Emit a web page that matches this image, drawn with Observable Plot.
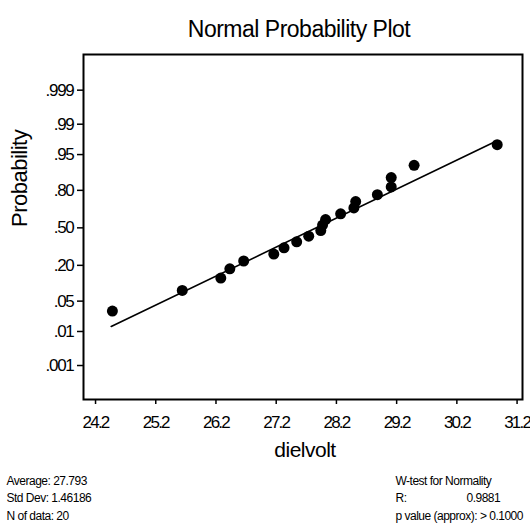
<!DOCTYPE html>
<html>
<head>
<meta charset="utf-8">
<script src="https://cdn.jsdelivr.net/npm/d3@7"></script>
<script src="https://cdn.jsdelivr.net/npm/@observablehq/plot@0.6"></script>
<style>
  html, body { margin: 0; padding: 0; background: white; }
  svg g[aria-label="x-axis tick label"] text { letter-spacing: -1.8px; }
  svg g[aria-label="y-axis tick label"] text { letter-spacing: -1.3px; }
</style>
</head>
<body>
<script>
// ---- data ----
const dielvolt = [24.48, 25.64, 26.28, 26.43, 26.66, 27.16, 27.33, 27.54, 27.74, 27.94,
                  27.97, 28.02, 28.27, 28.49, 28.52, 28.88, 29.11, 29.11, 29.49, 30.87];
const probability = [0.0309, 0.0802, 0.1296, 0.1790, 0.2284, 0.2778, 0.3272, 0.3765, 0.4259, 0.4753,
                     0.5247, 0.5741, 0.6235, 0.6728, 0.7222, 0.7716, 0.8210, 0.8704, 0.9198, 0.9691];
const fitLineX = [24.46, 30.85];
const fitLineP = [0.0134, 0.974];
const xTicks = [24.2, 25.2, 26.2, 27.2, 28.2, 29.2, 30.2, 31.2];
const probTicks = [0.001, 0.01, 0.05, 0.20, 0.50, 0.80, 0.95, 0.99, 0.999];
const probTickLabels = [".001", ".01", ".05", ".20", ".50", ".80", ".95", ".99", ".999"];
const statsLeft = ["Average: 27.793", "Std Dev: 1.46186", "N of data: 20"];
const statsRight = ["W-test for Normality", "R:", "p value (approx): > 0.1000"];
const rValue = "0.9881";

// inverse standard normal CDF (Acklam)
function qnorm(p) {
  const a = [-3.969683028665376e+01, 2.209460984245205e+02, -2.759285104469687e+02, 1.383577518672690e+02, -3.066479806614716e+01, 2.506628277459239e+00];
  const b = [-5.447609879822406e+01, 1.615858368580409e+02, -1.556989798598866e+02, 6.680131188771972e+01, -1.328068155288572e+01];
  const c = [-7.784894002430293e-03, -3.223964580411365e-01, -2.400758277161838e+00, -2.549732539343734e+00, 4.374664141464968e+00, 2.938163982698783e+00];
  const d = [7.784695709041462e-03, 3.224671290700398e-01, 2.445134137142996e+00, 3.754408661907416e+00];
  const pl = 0.02425, ph = 1 - pl;
  let q, r;
  if (p < pl) {
    q = Math.sqrt(-2 * Math.log(p));
    return (((((c[0]*q+c[1])*q+c[2])*q+c[3])*q+c[4])*q+c[5]) / ((((d[0]*q+d[1])*q+d[2])*q+d[3])*q+1);
  } else if (p <= ph) {
    q = p - 0.5; r = q * q;
    return (((((a[0]*r+a[1])*r+a[2])*r+a[3])*r+a[4])*r+a[5])*q / (((((b[0]*r+b[1])*r+b[2])*r+b[3])*r+b[4])*r+1);
  } else {
    q = Math.sqrt(-2 * Math.log(1 - p));
    return -(((((c[0]*q+c[1])*q+c[2])*q+c[3])*q+c[4])*q+c[5]) / ((((d[0]*q+d[1])*q+d[2])*q+d[3])*q+1);
  }
}

const points = dielvolt.map((x, i) => ({x, p: probability[i]}));
const fitLine = fitLineX.map((x, i) => ({x, p: fitLineP[i]}));
const zTicks = probTicks.map(qnorm);
const labelOf = new Map(zTicks.map((z, i) => [z, probTickLabels[i]]));

const font = "'Liberation Sans', Arial, Helvetica, sans-serif";
const lineDy = [85, 102.5, 120];

const statMarks = [];
statsLeft.forEach((s, i) => statMarks.push(
  Plot.text([s], {text: d => d, frameAnchor: "bottom-left", textAnchor: "start", dx: -77, dy: lineDy[i], fontSize: 12})
));
statsRight.forEach((s, i) => statMarks.push(
  Plot.text([s], {text: d => d, frameAnchor: "bottom-left", textAnchor: "start", dx: 312, dy: lineDy[i], fontSize: 12})
));
statMarks.push(
  Plot.text([rValue], {text: d => d, frameAnchor: "bottom-left", textAnchor: "start", dx: 383, dy: lineDy[1], fontSize: 12})
);

const chart = Plot.plot({
  width: 530,
  height: 525,
  marginTop: 54,
  marginBottom: 126,
  marginLeft: 83,
  marginRight: 8,
  style: {fontFamily: font, background: "white", color: "black", letterSpacing: "-0.5px"},
  x: {domain: [24.0, 31.29]},
  y: {domain: [-3.853, 3.891]},
  marks: [
    Plot.axisX(xTicks, {tickSize: 5, tickPadding: 11, fontSize: 17, strokeWidth: 1.5,
                        tickFormat: d3.format(".1f"), label: null}),
    Plot.axisY(zTicks, {tickSize: 6, tickPadding: 4, fontSize: 17, strokeWidth: 1.5,
                        tickFormat: z => labelOf.get(z), label: null}),
    Plot.frame({stroke: "black", strokeWidth: 2}),
    Plot.line(fitLine, {x: "x", y: d => qnorm(d.p), stroke: "black", strokeWidth: 1.6}),
    Plot.dot(points, {x: "x", y: d => qnorm(d.p), r: 5.5, fill: "black", stroke: "none"}),
    // title
    Plot.text(["Normal Probability Plot"], {text: d => d, frameAnchor: "top", dx: -4, dy: -34, fontSize: 23}),
    // axis labels
    Plot.text(["dielvolt"], {text: d => d, frameAnchor: "bottom", dx: 2, dy: 57, fontSize: 21}),
    Plot.text(["Probability"], {text: d => d, frameAnchor: "left", dx: -64, rotate: -90, fontSize: 22}),
    ...statMarks
  ]
});
document.body.append(chart);
</script>
</body>
</html>
